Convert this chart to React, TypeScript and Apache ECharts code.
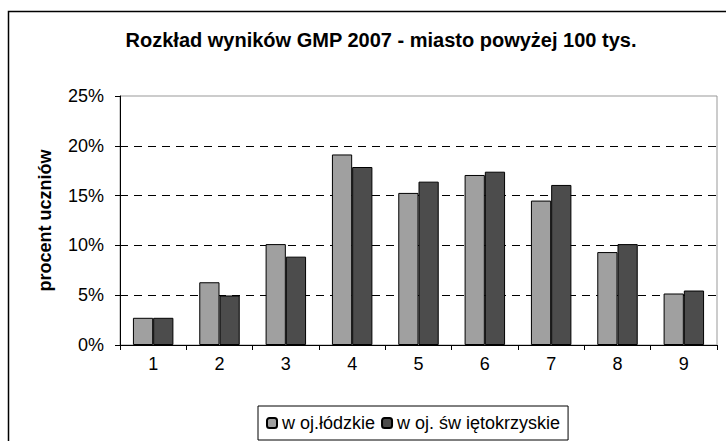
import React, { useEffect, useRef } from "react";
import * as echarts from "echarts";

const categories = ["1", "2", "3", "4", "5", "6", "7", "8", "9"];
const lodzkie = [2.73, 6.3, 10.13, 19.13, 15.27, 17.07, 14.5, 9.33, 5.17];
const swietokrzyskie = [2.73, 4.97, 8.87, 17.87, 16.4, 17.4, 16.07, 10.13, 5.47];
const seriesNames = ["w oj.łódzkie", "w oj. św iętokrzyskie"];
const titleText = "Rozkład wyników GMP 2007 - miasto powyżej 100 tys.";
const yAxisName = "procent uczniów";

const FONT = "'Liberation Sans', Arial, sans-serif";

export default function App() {
  const ref = useRef<HTMLDivElement>(null);
  useEffect(() => {
    if (!ref.current) return;
    const chart = echarts.init(ref.current, undefined, { renderer: "svg" });
    chart.setOption({
      animation: false,
      backgroundColor: "#ffffff",
      textStyle: { fontFamily: FONT },
      title: {
        text: titleText,
        left: 376,
        top: 25,
        textAlign: "center",
        textStyle: { fontFamily: FONT, fontSize: 20, fontWeight: "bold", color: "#000" },
      },
      graphic: [
        {
          type: "rect",
          shape: { x: 8.5, y: 11.5, width: 800, height: 500 },
          style: { fill: "none", stroke: "#000", lineWidth: 1.5 },
          silent: true,
        },
      ],
      legend: {
        left: 258,
        top: 406,
        padding: [8, 8, 8, 8],
        borderColor: "#000",
        borderWidth: 1,
        itemWidth: 10,
        itemHeight: 10,
        itemGap: 6,
        textStyle: { fontFamily: FONT, fontSize: 18, color: "#000" },
        data: seriesNames,
      },
      grid: {
        left: 120,
        top: 96,
        right: 9,
        bottom: 96,
        show: true,
        borderColor: "#999",
        borderWidth: 1,
        containLabel: false,
      },
      xAxis: {
        type: "category",
        data: categories,
        axisLine: { lineStyle: { color: "#000", width: 1 } },
        axisTick: { show: true, alignWithLabel: false, length: 5, lineStyle: { color: "#000" } },
        axisLabel: { fontFamily: FONT, fontSize: 18, color: "#000", margin: 10 },
      },
      yAxis: {
        type: "value",
        min: 0,
        max: 25,
        interval: 5,
        name: yAxisName,
        nameLocation: "middle",
        nameRotate: 90,
        nameGap: 66,
        nameTextStyle: { fontFamily: FONT, fontSize: 18, fontWeight: "bold", color: "#000" },
        axisLine: { show: true, lineStyle: { color: "#000", width: 1 } },
        axisTick: { show: true, length: 5, lineStyle: { color: "#000" } },
        axisLabel: { fontFamily: FONT, fontSize: 18, color: "#000", margin: 16, formatter: "{value}%" },
        splitLine: {
          show: true,
          showMaxLine: false,
          showMinLine: false,
          lineStyle: { color: "#000", type: [8, 6], width: 1 },
        },
      },
      series: [
        {
          name: seriesNames[0],
          type: "bar",
          data: lodzkie,
          barGap: "0%",
          barCategoryGap: "39%",
          itemStyle: { color: "#a0a0a0", borderColor: "#000", borderWidth: 1 },
        },
        {
          name: seriesNames[1],
          type: "bar",
          data: swietokrzyskie,
          barGap: "0%",
          barCategoryGap: "39%",
          itemStyle: { color: "#4c4c4c", borderColor: "#000", borderWidth: 1 },
        },
      ],
    });
    return () => chart.dispose();
  }, []);
  return (
    <div
      ref={ref}
      style={{ position: "absolute", left: 0, top: 0, width: 726, height: 441 }}
    />
  );
}
